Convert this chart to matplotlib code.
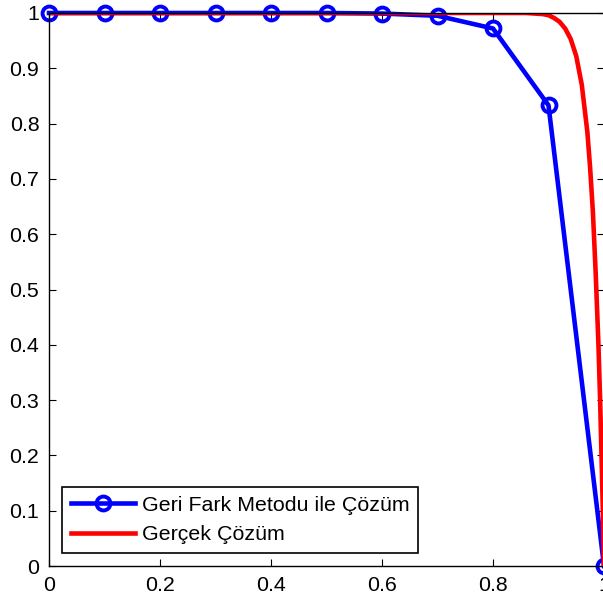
import matplotlib
matplotlib.use('Agg')
import matplotlib.pyplot as plt

plt.rcParams['font.family'] = ['Liberation Sans', 'DejaVu Sans']

# backward difference solution (h = 0.1)
x_num = [0.0, 0.1, 0.2, 0.3, 0.4, 0.5, 0.6, 0.7, 0.8, 0.9, 1.0]
y_num = [1.0, 1.0, 1.0, 1.0, 1.0, 1.0, 0.999, 0.995, 0.972, 0.833, 0.0]

# exact solution
x_true = [0.0, 0.86, 0.89, 0.90, 0.91, 0.92, 0.93, 0.94, 0.95, 0.96, 0.97,
          0.975, 0.98, 0.985, 0.99, 0.993, 0.996, 0.998, 1.0]
y_true = [1.0, 1.0, 0.998, 0.996, 0.991, 0.984, 0.972, 0.953, 0.922, 0.870,
          0.785, 0.72, 0.64, 0.53, 0.40, 0.30, 0.18, 0.095, 0.0]

xticks = [0, 0.2, 0.4, 0.6, 0.8, 1]
xtick_labels = ['0', '0.2', '0.4', '0.6', '0.8', '1']
yticks = [0, 0.1, 0.2, 0.3, 0.4, 0.5, 0.6, 0.7, 0.8, 0.9, 1]
ytick_labels = ['0', '0.1', '0.2', '0.3', '0.4', '0.5', '0.6', '0.7', '0.8', '0.9', '1']

fig = plt.figure(figsize=(6.03, 5.98), dpi=100)
ax = fig.add_axes([49 / 603, 32 / 598, 555 / 603, 553 / 598])

ax.plot(x_num, y_num, color='#0000ff', linewidth=3.3, marker='o',
        markersize=10, markeredgewidth=2.8, markerfacecolor='none',
        clip_on=False, label='Geri Fark Metodu ile Çözüm')
ax.plot(x_true, y_true, color='#ff0000', linewidth=3.3, label='Gerçek Çözüm')

ax.set_xlim(0, 1)
ax.set_ylim(0, 1)
ax.set_xticks(xticks)
ax.set_xticklabels(xtick_labels)
ax.set_yticks(yticks)
ax.set_yticklabels(ytick_labels)
ax.tick_params(direction='in', length=5, width=0.8, labelsize=15.4,
               top=True, right=True, pad=7)
for s in ax.spines.values():
    s.set_linewidth(1.0)

leg = ax.legend(loc='lower left', bbox_to_anchor=(0.0234, 0.0235),
                borderaxespad=0, fancybox=False, fontsize=15.4,
                handlelength=3.0, handletextpad=0.35, labelspacing=0.5,
                borderpad=0.4)
leg.get_frame().set_edgecolor('black')
leg.get_frame().set_linewidth(1.2)
leg.get_frame().set_alpha(1)

fig.savefig('out.png', dpi=100)
